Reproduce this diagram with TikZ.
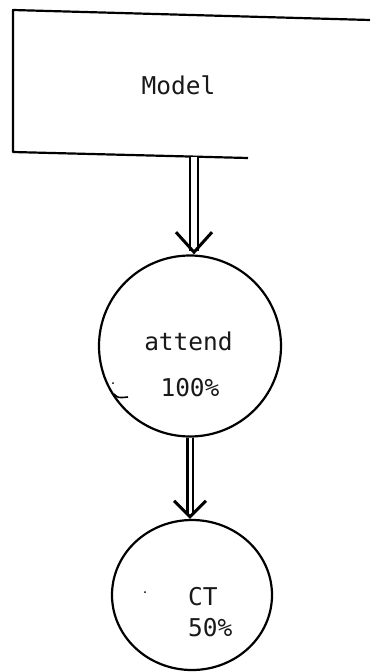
\documentclass[tikz,border=0pt]{standalone}
\usepackage{fontspec}
\newfontfamily\plotfont{DejaVu Sans Mono}
\usetikzlibrary{shapes.geometric,arrows.meta}
\tikzset{
  ink/.style={line width=2.2pt, black},
  lbl/.style={font=\plotfont\fontsize{24.5}{26}\selectfont, inner sep=0pt, text=black!90},
  blob/.style={ellipse, draw, ink, inner sep=0pt},
  dblarrow/.style={ink, double, double distance=#1},
}
\begin{document}
\begin{tikzpicture}[x=1pt,y=-1pt]
\useasboundingbox (0,0) rectangle (370,672);
% box (open on the right)
\draw[ink, line join=round] (370,20) -- (13,10) -- (13,152) -- (248,158);
\node[lbl, anchor=base] (model) at (178.5,94) {Model};
\coordinate (boxbot) at (194,156.5);
% circles
\node[blob, minimum width=182pt, minimum height=181pt] (c1) at (190,346) {};
\node[blob, minimum width=160pt, minimum height=150pt] (c2) at (192,595) {};
% labels
\node[lbl, anchor=base] (attend) at (188.5,350) {attend};
\node[lbl, anchor=base] (p100) at (190,396) {100\%};
\node[lbl, anchor=base west] (ct) at (188,605) {CT};
\node[lbl, anchor=base west] (p50) at (188,636) {50\%};
% connectors
\draw[dblarrow=6pt, -{Straight Barb[length=20pt,width=36pt,line width=3pt]}] (boxbot) -- (boxbot |- c1.north);
\draw[dblarrow=3pt, -{Straight Barb[length=16pt,width=32pt,line width=3pt]}] (c1.south) -- (c1.south |- c2.north);
% stray marks
\draw[ink, line width=1.6pt] (114,394) .. controls (118,398) .. (128,397);
\fill (113,383) circle (1pt);
\fill (145,592) circle (1pt);
\end{tikzpicture}
\end{document}
